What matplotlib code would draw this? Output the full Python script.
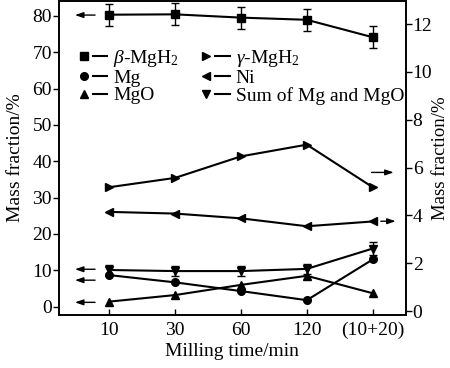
import numpy as np
import matplotlib
matplotlib.use('Agg')
import matplotlib.pyplot as plt
from matplotlib.lines import Line2D
from matplotlib.legend_handler import HandlerTuple

plt.rcParams['font.family'] = ['Liberation Serif', 'DejaVu Serif']
plt.rcParams['mathtext.fontset'] = 'custom'
plt.rcParams['mathtext.rm'] = 'Liberation Serif'
plt.rcParams['mathtext.it'] = 'Liberation Serif:italic'
plt.rcParams['font.size'] = 14

# milling time categories
times = ['10', '30', '60', '120', '(10+20)']

# left axis series (mass fraction, %)
beta_mgh2 = [80.3, 80.4, 79.5, 78.9, 74.1]
beta_err = [3.0, 3.0, 3.0, 3.0, 3.0]
mg = [8.7, 6.7, 4.3, 1.8, 13.0]
mgo = [1.4, 3.2, 6.0, 8.5, 3.7]
mgo_err = [0.8, 0.8, 0.8, 0.8, 0.8]
mg_sum = [10.1, 9.8, 9.8, 10.4, 16.0]
sum_err = [1.3, 1.3, 1.3, 1.3, 1.8]

# right axis series (mass fraction, %)
gamma_mgh2 = [5.18, 5.57, 6.47, 6.96, 5.18]
ni = [4.15, 4.08, 3.88, 3.55, 3.75]

x = np.arange(len(times))

fig = plt.figure(figsize=(4.5, 3.68), dpi=100)
ax = fig.add_axes([0.131, 0.144, 0.7706, 0.853])
ax2 = ax.twinx()

lw = 1.5
ms = 5.5
ax.errorbar(x, beta_mgh2, yerr=beta_err, color='k', lw=lw, marker='s', ms=ms, capsize=3, elinewidth=1)
ax.plot(x, mg, color='k', lw=lw, marker='o', ms=ms)
ax.errorbar(x, mgo, yerr=mgo_err, color='k', lw=lw, marker='^', ms=ms, capsize=0, elinewidth=1)
ax.errorbar(x, mg_sum, yerr=sum_err, color='k', lw=lw, marker='v', ms=ms, capsize=3, elinewidth=1)
ax2.plot(x, gamma_mgh2, color='k', lw=lw, marker='>', ms=ms)
ax2.plot(x, ni, color='k', lw=lw, marker='<', ms=ms)

ax.set_xlim(-0.76, 4.5)
ax.set_ylim(-2.28, 84.04)
ax2.set_ylim(-0.16, 12.96)
ax.set_yticks(np.arange(0, 81, 10))
ax2.set_yticks(np.arange(0, 13, 2))
ax.set_xticks(x)
ax.set_xticklabels(times)

ax.tick_params(axis='y', direction='out', length=4, width=1, pad=1)
ax.tick_params(axis='x', direction='in', length=4.5, width=1, top=False, pad=5)
ax2.tick_params(axis='y', direction='out', length=4, width=1, pad=1)
for a in (ax, ax2):
    for s in a.spines.values():
        s.set_linewidth(1.2)

ax.set_xlabel('Milling time/min', labelpad=3)
ax.set_ylabel('Mass fraction/%', labelpad=6)
ax2.set_ylabel('Mass fraction/%', labelpad=0, fontsize=13.5)

# arrows showing which axis each curve belongs to
ap = dict(arrowstyle='-|>,head_length=0.35,head_width=0.12', color='k', lw=1)
for yv in [80.2, 10.3, 7.3, 1.2]:
    ax.annotate('', xy=(-0.56, yv), xytext=(-0.17, yv), arrowprops=ap)
ax2.annotate('', xy=(4.36, 5.8), xytext=(3.94, 5.8), arrowprops=ap)
ax2.annotate('', xy=(4.39, 3.76), xytext=(4.08, 3.76), arrowprops=ap)

def h(m):
    return (Line2D([], [], color='k', marker=m, ms=ms, lw=0),
            Line2D([], [], color='k', lw=lw))

handles = [h('s'), h('o'), h('^'), h('>'), h('<'), h('v')]
labels = [r'$\mathit{\beta}$-MgH$_2$', 'Mg', 'MgO',
          r'$\mathit{\gamma}$-MgH$_2$', 'Ni', 'Sum of Mg and MgO']
ax.legend(handles, labels, ncol=2, frameon=False, loc='upper left',
          bbox_to_anchor=(0.05, 0.85), handler_map={tuple: HandlerTuple(ndivide=None, pad=0.1)},
          handlelength=1.6, handletextpad=0.3, columnspacing=1.0, labelspacing=0.0,
          borderaxespad=0, borderpad=0)

fig.savefig('out.png', dpi=100)
